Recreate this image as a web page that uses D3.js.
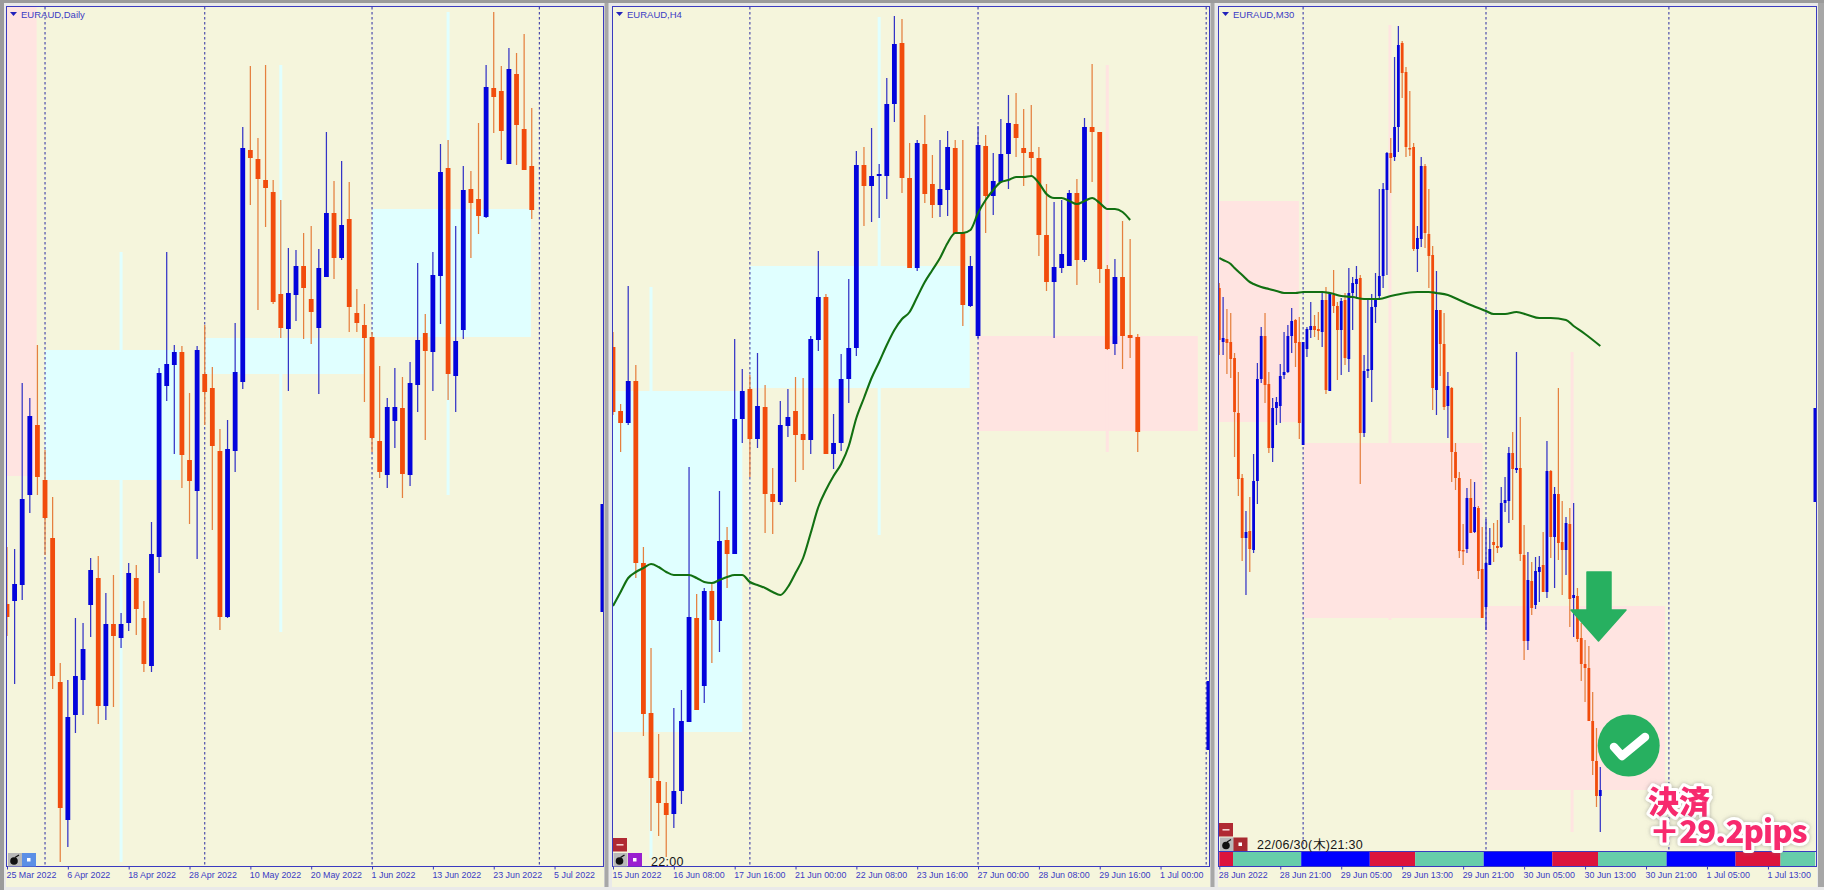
<!DOCTYPE html>
<html><head><meta charset="utf-8">
<style>html,body{margin:0;padding:0;background:#e6e6e6;overflow:hidden}svg{display:block}</style>
<script src="https://cdn.jsdelivr.net/npm/d3@7"></script></head><body>
<svg id="c" width="1824" height="890"></svg>
<script>
/* ---- Daily ---- */
const dailyLabels=["25 Mar 2022","6 Apr 2022","18 Apr 2022","28 Apr 2022","10 May 2022","20 May 2022","1 Jun 2022","13 Jun 2022","23 Jun 2022","5 Jul 2022"];
const dailyOpen=[296,299,315,405,475,420,362,218,80,185,220,295,322,194,276,262,277,322,282,234,343,514,535,548,440,409,526,512,449,283,449,518,750,741,720,708,606,571,605,634,601,572,623,687,642,681,587,575,563,459,425,479,492,425,515,567,548,624,732,524,570,711,701,683,812,809,736,826,771,734];
const dailyClose=[283,316,401,484,423,382,224,92,183,224,251,330,194,276,264,276,327,291,236,346,527,536,548,445,419,550,508,454,283,451,528,752,742,721,712,598,572,607,634,612,588,632,687,642,675,593,577,562,462,428,493,493,426,517,560,549,625,728,526,559,710,697,684,813,803,769,831,775,730,690];
const dailyHigh=[353,351,517,502,555,450,403,237,220,282,277,342,344,307,325,287,337,335,299,378,532,648,555,554,507,554,575,533,471,480,577,773,834,762,835,720,700,652,650,667,674,651,768,719,739,718,611,596,568,534,502,532,523,538,637,586,648,756,760,674,734,729,777,835,888,834,852,847,866,792];
const dailyLow=[264,216,300,387,405,345,211,38,53,167,185,263,176,180,193,252,269,265,228,228,327,499,446,412,376,341,475,370,270,282,428,511,695,590,673,596,562,509,579,561,556,506,623,621,640,568,568,498,448,422,412,452,402,414,488,460,509,576,500,488,561,642,666,682,767,740,736,735,730,681];
const dailyZones=[[0,3.9,893,424,null,null,null,"bear"],[5,22.8,550,420,15,648,38,"bull"],[26,47,562,526,36,835,268,"bull"],[48,68.9,691,563,58,888,405,"bull"]];
const dailyBreaks=[5,26,48,70];
const dailyEdge=[396,288];

/* ---- H4 ---- */
const h4Labels=["15 Jun 2022","16 Jun 08:00","17 Jun 16:00","21 Jun 00:00","22 Jun 08:00","23 Jun 16:00","27 Jun 00:00","28 Jun 08:00","29 Jun 16:00","1 Jul 00:00"];
const h4Open=[553,489,477,519,337,187,119,97,86,109,178,282,214,309,279,360,346,481,511,461,493,406,398,474,489,466,460,560,603,446,457,521,552,735,714,724,724,796,857,722,632,756,716,695,710,752,668,594,564,754,704,718,746,776,752,748,742,665,618,632,634,707,640,773,768,631,556,623,565,563];
const h4Close=[488,477,519,337,186,122,97,85,109,179,283,190,309,280,359,346,481,509,461,494,406,398,475,483,465,460,561,603,446,457,521,552,735,714,724,726,796,856,722,632,757,706,695,711,753,667,595,634,755,704,719,746,777,762,747,742,665,618,633,646,707,640,773,768,631,551,623,564,562,468];
const h4High=[568,496,614,535,353,252,166,118,192,210,433,306,312,316,409,373,561,531,525,547,515,432,499,511,523,522,564,649,606,486,546,621,749,753,772,736,822,884,881,757,760,785,745,760,769,760,760,644,774,765,747,781,805,807,791,795,753,716,698,700,710,721,782,836,768,635,641,679,661,566];
const h4Low=[485,448,475,322,164,69,64,43,72,96,178,190,197,237,248,312,346,457,423,452,367,366,395,463,418,430,446,549,446,431,449,497,544,674,678,682,701,778,707,632,629,697,682,683,684,666,574,593,562,667,685,717,711,743,714,723,644,609,562,627,634,615,638,718,617,550,545,531,542,448];
const h4Ma=[294,308,322,328,332,336,333,328,325,325,325,322,318,317,320,323,325,325,318,315,312,308,305,313,327,342,367,393,410,424,436,454,482,502,522,538,555,570,581,588,603,618,630,642,657,667,667,670,687,700,710,718,720,723,723,724,717,706,702,702,699,696,699,702,697,691,691,688,680];
const h4Zones=[[0,17,509,168,5,613,42,"bull"],[18,46.9,634,512,35,883,365,"bull"],[48,76.9,564,469,65,835,448,"bear"]];
const h4Breaks=[18,48,78];
const h4Edge=[219,150];

/* ---- M30 ---- */
const m30Labels=["28 Jun 2022","28 Jun 21:00","29 Jun 05:00","29 Jun 13:00","29 Jun 21:00","30 Jun 05:00","30 Jun 13:00","30 Jun 21:00","1 Jul 05:00","1 Jul 13:00"];
const m30Open=[612,558,561,558,542,487,422,362,369,350,419,521,564,516,452,492,494,525,528,564,580,558,455,551,570,574,571,568,600,509,605,594,570,600,541,607,616,622,467,529,530,593,604,624,710,747,743,773,857,828,752,753,651,661,734,666,645,510,590,556,494,512,448,422,350,351,402,368,392,331,293,335,358,354,353,397,399,447,430,432,345,259,319,295,328,335,308,429,363,406,358,350,376,302,304,262,236,232,179,139,104];
const m30Close=[560,562,557,541,488,421,362,368,351,419,521,564,515,452,492,498,524,528,564,579,557,477,558,571,574,570,569,600,510,606,594,570,599,542,607,617,621,467,529,531,593,600,624,711,747,742,773,855,827,753,751,651,662,734,667,644,512,590,556,493,514,448,422,349,349,402,367,393,329,282,337,351,355,352,397,400,447,431,432,346,259,320,292,329,333,308,429,363,406,357,350,377,301,305,261,236,232,179,139,104,110];
const m30High=[617,603,591,587,547,528,426,389,403,446,537,573,587,528,502,503,536,568,575,592,581,583,558,573,598,585,588,607,613,608,630,598,602,607,632,623,634,625,545,600,606,627,711,717,748,762,843,874,859,833,809,757,674,743,736,711,654,629,590,587,528,513,457,428,376,412,421,418,394,373,381,372,377,380,413,423,453,468,548,483,375,348,338,343,344,368,459,430,413,512,399,383,392,397,312,277,260,254,208,172,133];
const m30Low=[545,545,526,522,443,404,339,305,328,347,396,517,497,447,438,475,477,521,527,547,533,461,455,543,562,563,560,553,506,509,587,520,525,535,528,570,602,416,463,522,498,577,602,612,625,707,739,748,802,743,744,649,628,653,652,612,490,485,524,490,462,418,410,342,335,347,367,367,321,282,270,335,338,347,352,388,377,380,427,339,240,250,285,291,298,308,302,342,312,340,305,325,273,263,258,219,198,179,125,93,68];
const m30MaIndex=[0,1,3,4,6,8,9,11,13,15,17,20,22,24,27,29,32,35,38,42,45,49,52,55,57,60,63,66,70,72,75,78,81,84,87,91,93,96,100];
const m30MaValue=[642,640,636,632,625,618,616,613,611,609,607,607,608,608,608,607,604,603,601,601,604,607,608,608,607,605,600,595,589,586,586,588,585,582,582,580,574,566,554];
const m30Zones=[[0,20.9,699,478,null,null,null,"bear"],[22.1,69.1,457,282,44.8,875,280,"bear"],[70,117,294,110,92.6,548,68,"bear"]];
const m30Breaks=[22,70,118];
const m30Edge=[492,398];
const sessionEdges=[0,3.6,21.5,39.5,51.4,69.4,87.4,99.4,117.4,135.5,147.3,156.4];
const sessionKinds=["crimson","mediumaquamarine","blue","crimson","mediumaquamarine","blue","crimson","mediumaquamarine","blue","crimson","mediumaquamarine"];

const C={bg:"#f5f5dc",frame:"#3a3abf",up:"#0404dc",dn:"#f14c0c",upW:"#3434c6",dnW:"#e5803f",bull:"#e0ffff",bear:"#ffe4e1",ma:"#127012",grid:"#3d3da8",txt:"#3b3bc4"};
const svg=d3.select("#c");
svg.append("rect").attr("width",1824).attr("height",890).attr("fill","#e9e9e9");
svg.append("rect").attr("width",1824).attr("height",3).attr("fill","#9b9b9b");
svg.append("rect").attr("width",4).attr("height",890).attr("fill","#9b9b9b");
[[604.5,4],[1210.5,4],[1818,6]].forEach(g=>svg.append("rect").attr("x",g[0]).attr("y",3).attr("width",g[1]).attr("height",884).attr("fill","#a7a7a7"));
const levelScale=d3.scaleLinear().domain([0,900]).range([900,0]);

function panel(cfg){
  const {left,x0,name,open,close,high,low,zones,breaks,labels,tickStep,domainMax,bodyW,edge,plotBottom}=cfg;
  const right=left+cfg.width,top=7,axisY=866.5;
  const x=d3.scaleLinear().domain([0,domainMax]).range([x0,x0+domainMax*cfg.step]);
  const y=levelScale;
  const g=svg.append("g");
  g.append("rect").attr("x",left-1).attr("y",top-1).attr("width",right-left+2).attr("height",881).attr("fill",C.bg);
  const id="clip"+left;
  g.append("clipPath").attr("id",id).append("rect").attr("x",left).attr("y",top).attr("width",right-left).attr("height",plotBottom-top);
  const p=g.append("g").attr("clip-path",`url(#${id})`);
  p.selectAll(".zb").data(zones).join("rect").attr("x",d=>x(d[0])).attr("width",d=>x(d[1])-x(d[0])).attr("y",d=>y(d[2])).attr("height",d=>y(d[3])-y(d[2])).attr("fill",d=>d[7]==="bull"?C.bull:C.bear);
  p.selectAll(".zw").data(zones.filter(d=>d[4]!=null)).join("line").attr("x1",d=>x(d[4])).attr("x2",d=>x(d[4])).attr("y1",d=>y(d[5])).attr("y2",d=>y(d[6])).attr("stroke",d=>d[7]==="bull"?C.bull:C.bear).attr("stroke-width",3);
  p.selectAll(".gr").data(breaks).join("line").attr("x1",d=>x(d)).attr("x2",d=>x(d)).attr("y1",top).attr("y2",plotBottom).attr("stroke",C.grid).attr("stroke-width",1.1).attr("stroke-dasharray","2.5,2.5");
  const idx=d3.range(open.length);
  p.selectAll(".w").data(idx).join("line").attr("x1",i=>x(i)).attr("x2",i=>x(i)).attr("y1",i=>y(high[i])).attr("y2",i=>y(low[i])).attr("stroke",i=>close[i]>open[i]?C.upW:C.dnW).attr("stroke-width",1.25);
  p.selectAll(".b").data(idx).join("rect").attr("x",i=>x(i)-bodyW/2).attr("width",bodyW).attr("y",i=>y(Math.max(open[i],close[i]))).attr("height",i=>Math.max(1.5,Math.abs(y(open[i])-y(close[i])))).attr("fill",i=>close[i]>open[i]?C.up:C.dn);
  if(cfg.ma){
    const line=d3.line().x(d=>x(d[0])).y(d=>y(d[1])).curve(d3.curveMonotoneX);
    p.append("path").attr("d",line(cfg.ma)).attr("fill","none").attr("stroke",C.ma).attr("stroke-width",2.1);
  }
  g.append("rect").attr("x",right-2.5).attr("width",3).attr("y",y(edge[0])).attr("height",y(edge[1])-y(edge[0])).attr("fill",C.up);
  if(cfg.strip){
    g.selectAll(".s").data(cfg.strip.kinds).join("rect").attr("x",(d,i)=>x(cfg.strip.edges[i])).attr("width",(d,i)=>x(cfg.strip.edges[i+1])-x(cfg.strip.edges[i])).attr("y",852).attr("height",14).attr("fill",d=>d);
    g.append("line").attr("x1",left).attr("x2",right).attr("y1",851.5).attr("y2",851.5).attr("stroke",C.frame);
  }
  g.append("rect").attr("x",left-.5).attr("y",top-.5).attr("width",right-left+1).attr("height",axisY-top+.5).attr("fill","none").attr("stroke",C.frame).attr("stroke-width",1);
  const ax=d3.axisBottom(x).tickValues(labels.map((d,i)=>i*tickStep)).tickFormat((d,i)=>labels[i]).tickSize(3).tickSizeOuter(0);
  const ag=g.append("g").attr("transform",`translate(0,${axisY})`).call(ax);
  ag.select(".domain").remove();
  ag.selectAll("line").attr("stroke",C.frame);
  ag.selectAll("text").attr("text-anchor","start").attr("x",-1).attr("y",5.5).attr("dy",".71em").attr("fill",C.txt).style("font","8.9px 'Liberation Sans',sans-serif");
  g.append("path").attr("d",`M${left+3},${top+5}h7l-3.5,4z`).attr("fill","#2222bb");
  g.append("text").attr("x",cfg.nameX).attr("y",17.5).attr("fill",C.txt).style("font","9.5px 'Liberation Sans',sans-serif").text(name);
}
function btn(x,y,fill,kind){
  const g=svg.append("g").attr("transform",`translate(${x},${y})`);
  g.append("rect").attr("width",14).attr("height",13.5).attr("fill",fill);
  if(kind==="dot")g.append("rect").attr("x",5).attr("y",5).attr("width",3.5).attr("height",3.5).attr("fill","#fff");
  if(kind==="minus")g.append("rect").attr("x",3.5).attr("y",6).attr("width",7).attr("height",1.6).attr("fill","#f4d0d0");
  if(kind==="bomb"){g.append("circle").attr("cx",6).attr("cy",8).attr("r",3.8).attr("fill","#111");g.append("path").attr("d","M7,4.5L11,2").attr("stroke","#111").attr("stroke-width",1.3);}
}
panel({left:7,width:596,x0:7,step:7.605,domainMax:78.4,name:"EURAUD,Daily",nameX:21,open:dailyOpen,close:dailyClose,high:dailyHigh,low:dailyLow,zones:dailyZones,breaks:dailyBreaks,labels:dailyLabels,tickStep:8,bodyW:4.8,edge:dailyEdge,plotBottom:866});
panel({left:613,width:596,x0:613,step:7.605,domainMax:78.4,name:"EURAUD,H4",nameX:627,open:h4Open,close:h4Close,high:h4High,low:h4Low,zones:h4Zones,breaks:h4Breaks,labels:h4Labels,tickStep:8,bodyW:4.8,edge:h4Edge,plotBottom:866,ma:h4Ma.map((v,i)=>[i,v])});
panel({left:1219,width:597,x0:1219.3,step:3.81,domainMax:156.4,name:"EURAUD,M30",nameX:1233,open:m30Open,close:m30Close,high:m30High,low:m30Low,zones:m30Zones,breaks:m30Breaks,labels:m30Labels,tickStep:16,bodyW:2.8,edge:m30Edge,plotBottom:851,ma:m30MaIndex.map((v,i)=>[v,m30MaValue[i]]),strip:{edges:sessionEdges,kinds:sessionKinds}});

btn(8,853,"#b9b9b9","bomb");btn(22,853,"#5b8fe6","dot");
btn(613,838,"#b02a33","minus");btn(613.5,853,"#b9b9b9","bomb");btn(628,853,"#9a1fd0","dot");
btn(1219,823,"#b02a33","minus");btn(1220,837.5,"#b9b9b9","bomb");btn(1233.5,837.5,"#a82a30","dot");
const stamp=(x,y,t)=>svg.append("text").attr("x",x).attr("y",y).attr("fill","#161616").style("font","12.5px 'Liberation Sans',sans-serif").style("letter-spacing",".3px").text(t);
stamp(651,865.5,"22:00");
stamp(1257,848.5,"22/06/30(木)21:30").attr("font-family","'Noto Sans CJK JP'");

/* annotations */
svg.append("path").attr("d","M1587,572H1611V610H1626L1598.5,641L1571,610H1587Z").attr("fill","#27b060").attr("stroke","#27b060").attr("stroke-width",1.5).attr("stroke-linejoin","round");
svg.append("circle").attr("cx",1628.7).attr("cy",745.5).attr("r",31).attr("fill","#27b060");
svg.append("path").attr("d","M1614,747L1622,756L1645,737").attr("fill","none").attr("stroke","#fff").attr("stroke-width",8.5).attr("stroke-linecap","round").attr("stroke-linejoin","round");
const defs=svg.append("defs");
defs.append("filter").attr("id","glow").attr("x","-10%").attr("y","-20%").attr("width","120%").attr("height","140%").append("feDropShadow").attr("dx",0).attr("dy",0).attr("stdDeviation",2).attr("flood-color","#777").attr("flood-opacity",.55);
const big=(x,y,t)=>svg.append("text").attr("x",x).attr("y",y).attr("fill","#f7296e").attr("stroke","#fff").attr("stroke-width",6).attr("stroke-linejoin","round").attr("paint-order","stroke").attr("filter","url(#glow)").style("font","900 31px 'Noto Sans CJK JP',sans-serif").text(t);
big(1648,813,"決済");
big(1649,843,"＋29.2pips").style("letter-spacing","-.8px");
</script></body></html>
